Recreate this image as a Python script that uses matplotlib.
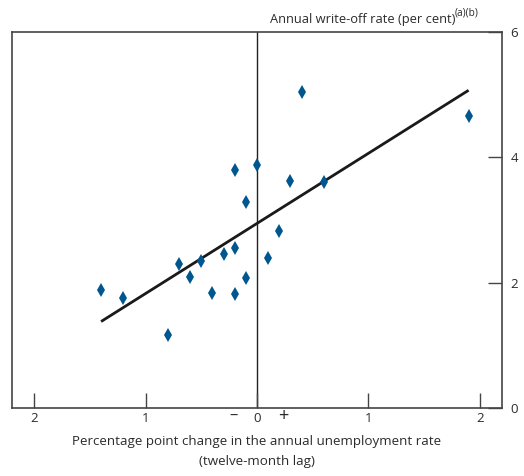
import matplotlib
matplotlib.use("Agg")
import matplotlib.pyplot as plt
import numpy as np

# Data
unemp_change = [-1.40, -1.20, -0.80, -0.70, -0.60, -0.50, -0.40, -0.30, -0.20, -0.20,
                -0.20, -0.10, -0.10, 0.00, 0.10, 0.20, 0.30, 0.60, 0.40, 1.90]
writeoff_rate = [1.89, 1.75, 1.17, 2.29, 2.09, 2.34, 1.84, 2.45, 2.55, 1.82,
                 3.79, 3.28, 2.08, 3.88, 2.39, 2.82, 3.62, 3.60, 5.04, 4.66]
fit_x = [-1.40, 1.90]
fit_y = [1.38, 5.07]
x_ticks = [-2, -1, 0, 1, 2]
x_ticklabels = ["2", "1", "0", "1", "2"]
y_ticks = [0, 2, 4, 6]

plt.rcParams['font.family'] = ['Open Sans', 'DejaVu Sans']
txt = '#2b2b2b'
spine_c = '#444444'

fig = plt.figure(figsize=(5.24, 4.76), dpi=100)
W, H = 524, 476
ax = fig.add_axes([12 / W, 1 - 408 / H, (502 - 12) / W, (408 - 32) / H])

ax.axvline(0, color='#222222', lw=1.0, zorder=1)
ax.plot(fit_x, fit_y, color='#1a1a1a', lw=2.0, zorder=2, solid_capstyle='butt')
ax.plot(unemp_change, writeoff_rate, linestyle='none', marker='d',
        markersize=7.5, markeredgewidth=0, color='#00578f', zorder=3)

ax.set_xlim(-2.2, 2.2)
ax.set_ylim(0, 6)
ax.set_xticks(x_ticks)
ax.set_xticklabels(x_ticklabels)
ax.set_yticks(y_ticks)
ax.yaxis.tick_right()
ax.tick_params(axis='x', direction='in', length=11, width=1.0, color=spine_c,
               labelsize=9.5, labelcolor=txt, pad=3)
ax.tick_params(axis='y', direction='in', length=10, width=1.0, color=spine_c,
               labelsize=9.5, labelcolor=txt, pad=6, right=True, left=False)
for s in ax.spines.values():
    s.set_color(spine_c)
    s.set_linewidth(1.2)

# minus / plus signs around zero
fig.text(234 / W, 1 - 416 / H, '\u2013', ha='center', va='center',
         fontsize=12, color=txt)
fig.text(283 / W, 1 - 416 / H, '+', ha='center', va='center',
         fontsize=13, color=txt)

fig.text(257 / W, 1 - 441 / H, 'Percentage point change in the annual unemployment rate',
         ha='center', va='center', fontsize=9.6, color=txt)
fig.text(257 / W, 1 - 462 / H, '(twelve-month lag)',
         ha='center', va='center', fontsize=9.6, color=txt)
fig.text(455 / W, 1 - 19 / H, 'Annual write-off rate (per cent)',
         ha='right', va='center', fontsize=9.3, color=txt)
fig.text(455 / W, 1 - 13 / H, '(a)(b)',
         ha='left', va='center', fontsize=7.3, color=txt)

fig.savefig('out.png', dpi=100)
